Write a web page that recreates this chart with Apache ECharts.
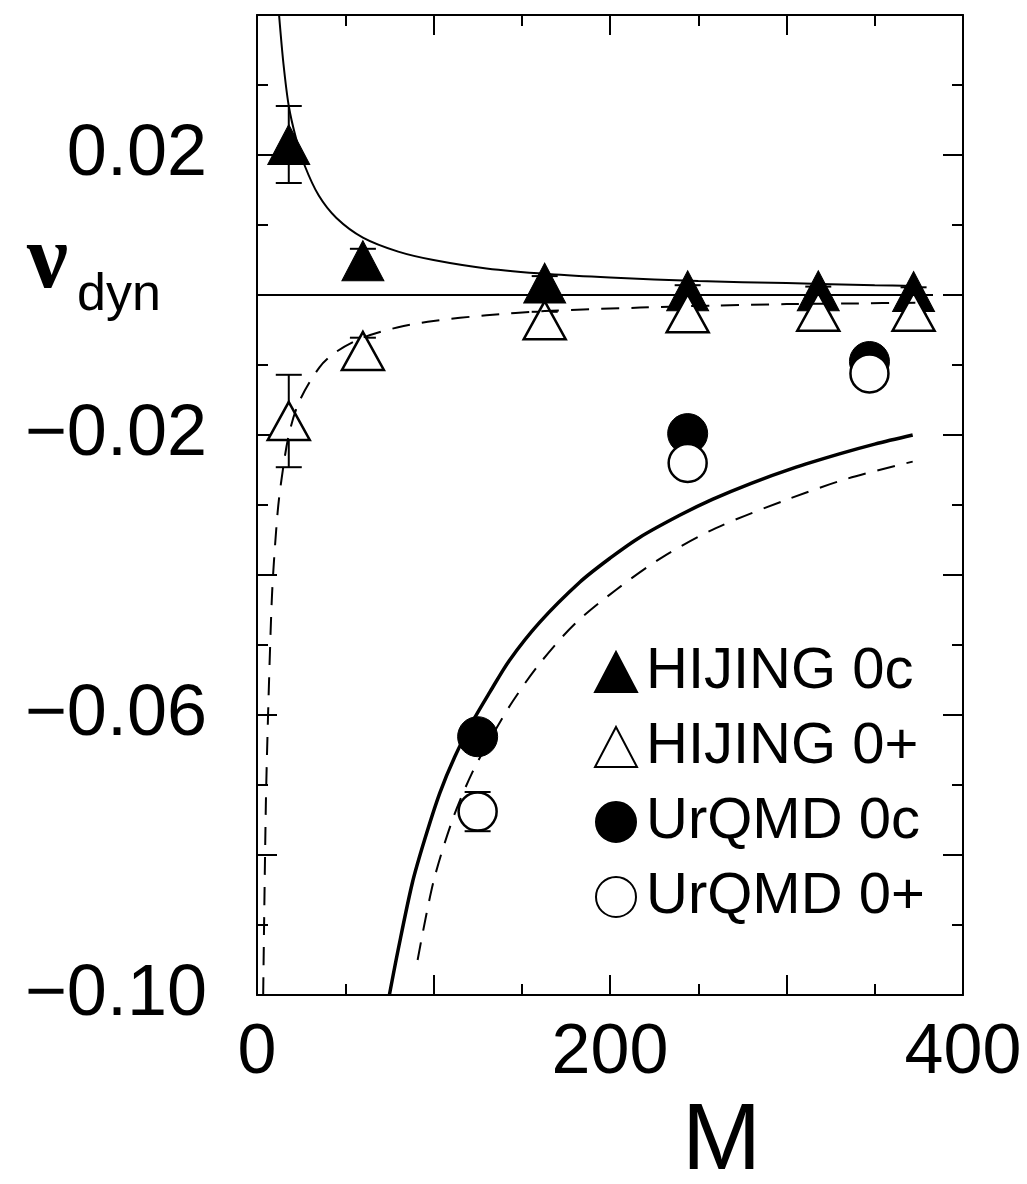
<!DOCTYPE html>
<html>
<head>
<meta charset="utf-8">
<script src="https://cdn.jsdelivr.net/npm/echarts@6/dist/echarts.min.js"></script>
<style>
    html, body { margin: 0; padding: 0; background: #fff; }
    #chart { width: 1027px; height: 1184px; }
</style>
</head>
<body>
<div id="chart"></div>
<script>
// HIJING points
var mHij = [18, 60, 163, 244, 318, 372];
var hij0c = [0.0215, 0.0049, 0.0017, 0.0006, 0.0006, 0.0005];
var hij0cErr = [0.0055, 0.0017, 0.0010, 0.0008, 0.0006, 0.0006];
var hij0p = [-0.018, -0.008, -0.0036, -0.0026, -0.0024, -0.0024];
var hij0pErr = [0.0066, 0.0019, 0.0012, 0.0006, 0.0004, 0.0004];

// UrQMD points
var mUrq = [125, 244, 347];
var urq0c = [-0.0631, -0.0198, -0.0095];
var urq0p = [-0.0738, -0.0240, -0.0112];
var urq0pErr = [0.0028, 0, 0];

// curves
var fitHijCM = [12.5, 15, 18, 22, 27, 35, 45, 60, 80, 100, 130, 165, 200, 250, 300, 350, 373];
var fitHijCV = [0.040, 0.033, 0.027, 0.0225, 0.0185, 0.0142, 0.011, 0.0082, 0.0062, 0.005, 0.0038, 0.003, 0.0025, 0.002, 0.0017, 0.0014, 0.0013];
var fitHijPM = [3.5, 5, 6.3, 8, 9.1, 11.7, 13.8, 18, 24, 35.5, 45, 60, 80, 100, 130, 163, 217, 260, 300, 340, 373];
var fitHijPV = [-0.100, -0.073, -0.0597, -0.046, -0.0400, -0.031, -0.0265, -0.0200, -0.0152, -0.0103, -0.0081, -0.0061, -0.0046, -0.0037, -0.0029, -0.0023, -0.0018, -0.0015, -0.0013, -0.0012, -0.0011];
var fitUrqCM = [75, 80, 88, 95, 103.5, 112, 122, 132, 143, 160, 183, 200, 217, 240, 258, 280, 303, 330, 350, 371.5];
var fitUrqCV = [-0.100, -0.0935, -0.0840, -0.0778, -0.0712, -0.0660, -0.0610, -0.0567, -0.0522, -0.0468, -0.0410, -0.0376, -0.0346, -0.0314, -0.0292, -0.0269, -0.0248, -0.0227, -0.0213, -0.0200];
var fitUrqPM = [91, 100, 111, 122, 133.6, 145, 160, 180, 203.5, 230, 260, 301.6, 335, 371.5];
var fitUrqPV = [-0.095, -0.0838, -0.0748, -0.0682, -0.0628, -0.0580, -0.0527, -0.0470, -0.0421, -0.0374, -0.0333, -0.0291, -0.0262, -0.0238];
var zeroM = [0, 383];
var zeroV = [0, 0];

var xTicks = [0, 200, 400];
var yTicks = [0.02, -0.02, -0.06, -0.10];

function pairs(xs, ys) {
    return xs.map(function (x, i) { return [x, ys[i]]; });
}
function errs(xs, ys, es) {
    return xs.map(function (x, i) { return [x, ys[i], es[i]]; }).filter(function (d) { return d[2] > 0; });
}
function fmtY(v) {
    var ok = yTicks.some(function (t) { return Math.abs(t - v) < 1e-6; });
    if (!ok) return '';
    return (v < 0 ? '\u2212' : '') + Math.abs(v).toFixed(2);
}
function fmtX(v) {
    return xTicks.indexOf(Math.round(v)) >= 0 ? String(Math.round(v)) : '';
}
// vertical error bar with caps
function errBar(params, api) {
    var x = api.value(0), v = api.value(1), e = api.value(2);
    var hi = api.coord([x, v + e]);
    var lo = api.coord([x, v - e]);
    var w = 13;
    var st = { stroke: '#000', lineWidth: 2 };
    return {
        type: 'group',
        children: [
            { type: 'line', shape: { x1: hi[0], y1: hi[1], x2: lo[0], y2: lo[1] }, style: st },
            { type: 'line', shape: { x1: hi[0] - w, y1: hi[1], x2: hi[0] + w, y2: hi[1] }, style: st },
            { type: 'line', shape: { x1: lo[0] - w, y1: lo[1], x2: lo[0] + w, y2: lo[1] }, style: st }
        ]
    };
}

var axisCommon = {
    axisLine: { show: true, onZero: false, lineStyle: { color: '#000', width: 2 } },
    axisTick: { show: true, inside: true, length: 20, lineStyle: { color: '#000', width: 2 } },
    minorTick: { show: true, splitNumber: 2, length: 11, lineStyle: { color: '#000', width: 2 } },
    splitLine: { show: false }
};

var font = '"Liberation Sans", Arial, Helvetica, sans-serif';
var curve = { type: 'line', z: 4, showSymbol: false, smooth: 0.3, silent: true };

var myChart = echarts.init(document.getElementById('chart'));
var option = {
    backgroundColor: '#fff',
    animation: false,
    grid: { left: 257, right: 64, top: 15, bottom: 189 },
    xAxis: [
        Object.assign({
            type: 'value', position: 'bottom', min: 0, max: 400, interval: 100,
            axisLabel: { formatter: fmtX, fontSize: 70, fontFamily: font, color: '#000', margin: 24 }
        }, axisCommon),
        Object.assign({
            type: 'value', position: 'top', min: 0, max: 400, interval: 100,
            axisLabel: { show: false }
        }, axisCommon)
    ],
    yAxis: [
        Object.assign({
            type: 'value', position: 'left', min: -0.10, max: 0.04, interval: 0.02,
            axisLabel: { formatter: fmtY, fontSize: 72, fontFamily: font, color: '#000', margin: 50 }
        }, axisCommon),
        Object.assign({
            type: 'value', position: 'right', min: -0.10, max: 0.04, interval: 0.02,
            axisLabel: { show: false }
        }, axisCommon)
    ],
    legend: {
        data: ['HIJING 0c', 'HIJING 0+', 'UrQMD 0c', 'UrQMD 0+'],
        orient: 'vertical',
        left: 589,
        top: 638,
        itemWidth: 42,
        itemHeight: 40,
        itemGap: 17,
        selectedMode: false,
        textStyle: { fontSize: 58, fontFamily: font, color: '#000', padding: [0, 0, 0, 4] }
    },
    graphic: [
        { type: 'text', left: 27, top: 217, style: { text: '\u03bd', font: 'bold 92px "Liberation Serif", "Times New Roman", serif', fill: '#000' } },
        { type: 'text', left: 77, top: 270, style: { text: 'dyn', font: '52px ' + font, fill: '#000' } },
        { type: 'text', left: 682, top: 1095, style: { text: 'M', font: '95px ' + font, fill: '#000' } }
    ],
    series: [
        {
            name: 'err', type: 'custom', z: 1, silent: true,
            renderItem: errBar,
            encode: { x: 0, y: 1 },
            data: errs(mHij, hij0c, hij0cErr).concat(errs(mHij, hij0p, hij0pErr), errs(mUrq, urq0p, urq0pErr))
        },
        {
            name: 'HIJING 0c', type: 'scatter', z: 2, symbol: 'triangle', symbolSize: [42, 40],
            itemStyle: { color: '#000', borderColor: '#000', borderWidth: 1, opacity: 1 },
            data: pairs(mHij, hij0c)
        },
        {
            name: 'UrQMD 0c', type: 'scatter', z: 2, symbol: 'circle', symbolSize: 40,
            itemStyle: { color: '#000', borderColor: '#000', borderWidth: 1, opacity: 1 },
            data: pairs(mUrq, urq0c)
        },
        {
            name: 'HIJING 0+', type: 'scatter', z: 3, symbol: 'triangle', symbolSize: [42, 38],
            itemStyle: { color: '#fff', borderColor: '#000', borderWidth: 2.5, opacity: 1 },
            data: pairs(mHij, hij0p)
        },
        {
            name: 'UrQMD 0+', type: 'scatter', z: 3, symbol: 'circle', symbolSize: 38,
            itemStyle: { color: '#fff', borderColor: '#000', borderWidth: 2.5, opacity: 1 },
            data: pairs(mUrq, urq0p)
        },
        Object.assign({ name: 'zero', lineStyle: { color: '#000', width: 2 }, data: pairs(zeroM, zeroV) }, curve, { smooth: false }),
        Object.assign({ name: 'fit HIJING 0c', lineStyle: { color: '#000', width: 2 }, data: pairs(fitHijCM, fitHijCV) }, curve),
        Object.assign({ name: 'fit HIJING 0+', lineStyle: { color: '#000', width: 2, type: [18, 12] }, data: pairs(fitHijPM, fitHijPV) }, curve),
        Object.assign({ name: 'fit UrQMD 0c', lineStyle: { color: '#000', width: 3.5 }, data: pairs(fitUrqCM, fitUrqCV) }, curve),
        Object.assign({ name: 'fit UrQMD 0+', lineStyle: { color: '#000', width: 2, type: [18, 12] }, data: pairs(fitUrqPM, fitUrqPV) }, curve)
    ]
};
myChart.setOption(option);
</script>
</body>
</html>
